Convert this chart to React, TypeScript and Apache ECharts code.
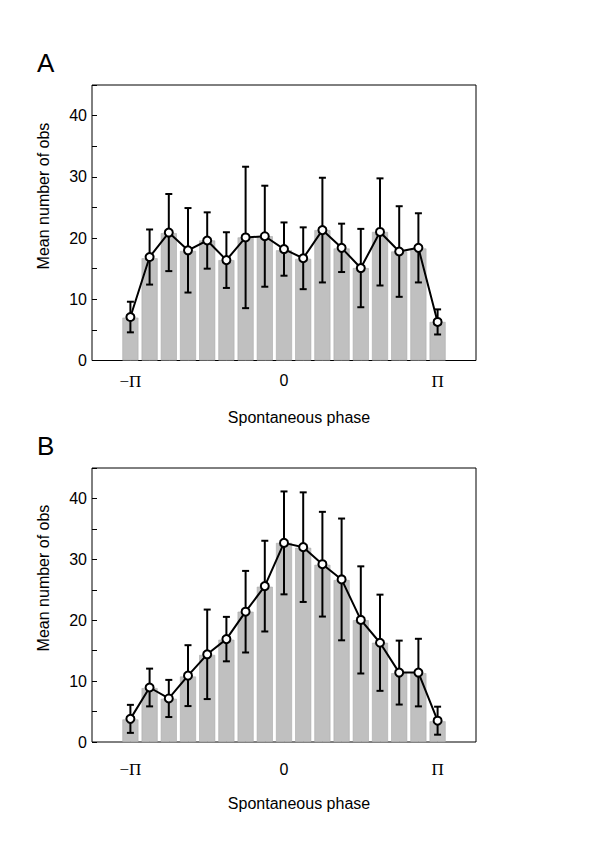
import React, { useEffect, useRef } from "react";
import * as echarts from "echarts";

const phase = [-8, -7, -6, -5, -4, -3, -2, -1, 0, 1, 2, 3, 4, 5, 6, 7, 8];
const phaseLabelValues = [-8, 0, 8];
const yTickLabels = [0, 10, 20, 30, 40];

const barA = [7.0, 16.7, 20.8, 17.9, 19.6, 16.4, 20.1, 20.3, 18.0, 16.6, 21.3, 18.3, 15.1, 21.0, 17.8, 18.3, 6.3];
const meanA = [7.1, 16.9, 20.9, 18.0, 19.6, 16.4, 20.1, 20.3, 18.2, 16.7, 21.3, 18.4, 15.1, 21.0, 17.8, 18.4, 6.3];
const errA = [2.5, 4.5, 6.3, 6.9, 4.6, 4.55, 11.55, 8.25, 4.35, 5.05, 8.55, 3.95, 6.4, 8.75, 7.4, 5.65, 2.05];

const barB = [3.7, 8.85, 7.1, 10.75, 14.3, 16.8, 21.4, 25.5, 32.7, 31.9, 29.1, 26.6, 20.0, 16.3, 11.3, 11.3, 3.4];
const meanB = [3.8, 8.95, 7.15, 10.9, 14.4, 16.9, 21.4, 25.6, 32.7, 32.0, 29.2, 26.7, 20.05, 16.3, 11.4, 11.4, 3.5];
const errB = [2.3, 3.1, 3.05, 5.0, 7.35, 3.65, 6.7, 7.45, 8.45, 9.0, 8.6, 10.0, 8.8, 7.9, 5.25, 5.55, 2.3];

const panelLetters = ["A", "B"];
const xName = "Spontaneous phase";
const yName = "Mean number of obs";

const SANS = "Liberation Sans, Arial, Helvetica, sans-serif";
const SERIF = "Liberation Serif, Times New Roman, serif";

function errorRender(params: any, api: any) {
  const x = api.value(0);
  const m = api.value(1);
  const e = api.value(2);
  const top = api.coord([x, m + e]);
  const bot = api.coord([x, m - e]);
  const hw = 3.5;
  const st = { stroke: "#000", lineWidth: 2 };
  return {
    type: "group",
    children: [
      { type: "line", shape: { x1: top[0], y1: top[1], x2: bot[0], y2: bot[1] }, style: st },
      { type: "line", shape: { x1: top[0] - hw, y1: top[1], x2: top[0] + hw, y2: top[1] }, style: st },
      { type: "line", shape: { x1: bot[0] - hw, y1: bot[1], x2: bot[0] + hw, y2: bot[1] }, style: st },
    ],
  };
}

export default function App() {
  const ref = useRef<HTMLDivElement>(null);
  useEffect(() => {
    if (!ref.current) return;
    const chart = echarts.init(ref.current, null, { renderer: "svg" });
    const grids = [
      { left: 92, right: 124, top: 85, height: 275.5, labelMargin: 12 },
      { left: 92, right: 124, top: 468, height: 274, labelMargin: 19 },
    ];
    const panels = [
      { bar: barA, mean: meanA, err: errA },
      { bar: barB, mean: meanB, err: errB },
    ];
    const xAxes: any[] = [];
    const yAxes: any[] = [];
    const series: any[] = [];
    grids.forEach((g, i) => {
      xAxes.push({
        type: "value",
        gridIndex: i,
        min: -10,
        max: 10,
        interval: 1,
        splitLine: { show: false },
        axisLine: { show: false, onZero: false },
        axisTick: { show: true, inside: true, length: 3, customValues: phase, lineStyle: { color: "#333", width: 1 } },
        axisLabel: {
          customValues: phaseLabelValues,
          margin: g.labelMargin,
          color: "#000",
          fontSize: 16,
          fontFamily: SANS,
          formatter: (v: number) => (v === -8 ? "{s|\u2212\u03A0}" : v === 8 ? "{s|\u03A0}" : "0"),
          rich: { s: { fontFamily: SERIF, fontSize: 17, color: "#000" } },
        },
      });
      yAxes.push({
        type: "value",
        gridIndex: i,
        min: 0,
        max: 45,
        interval: 5,
        splitLine: { show: false },
        axisLine: { show: false, onZero: false },
        axisTick: { show: true, inside: true, length: 5, lineStyle: { color: "#000", width: 1 } },
        axisLabel: {
          margin: 5,
          color: "#000",
          fontSize: 16,
          fontFamily: SANS,
          formatter: (v: number) => (yTickLabels.indexOf(v) >= 0 ? String(v) : ""),
        },
      });
      const p = panels[i];
      series.push({
        type: "bar",
        xAxisIndex: i,
        yAxisIndex: i,
        barWidth: 16,
        data: phase.map((x, k) => [x, p.bar[k]]),
        itemStyle: { color: "#c0c0c0", borderColor: "#a9a9a9", borderWidth: 0.6 },
        z: 1,
      });
      series.push({
        type: "custom",
        xAxisIndex: i,
        yAxisIndex: i,
        renderItem: errorRender,
        encode: { x: 0, y: 1 },
        data: phase.map((x, k) => [x, p.mean[k], p.err[k]]),
        z: 3,
      });
      series.push({
        type: "line",
        xAxisIndex: i,
        yAxisIndex: i,
        data: phase.map((x, k) => [x, p.mean[k]]),
        symbol: "circle",
        symbolSize: 8,
        showAllSymbol: true,
        lineStyle: { color: "#000", width: 2 },
        itemStyle: { color: "#fff", borderColor: "#000", borderWidth: 2 },
        z: 4,
      });
    });

    const graphics: any[] = [];
    const letterTops = [50, 433];
    const yNameCenters = [196, 578];
    const xNameCenters = [417, 803];
    [0, 1].forEach((i) => {
      graphics.push({
        type: "text",
        left: 37,
        top: letterTops[i],
        style: { text: panelLetters[i], font: `26px ${SANS}`, fill: "#000" },
      });
      graphics.push({
        type: "text",
        x: 43,
        y: yNameCenters[i],
        rotation: Math.PI / 2,
        style: {
          text: yName,
          font: `16px ${SANS}`,
          fill: "#000",
          align: "center",
          verticalAlign: "middle",
        },
      });
      graphics.push({
        type: "text",
        x: 299,
        y: xNameCenters[i],
        style: {
          text: xName,
          font: `16px ${SANS}`,
          fill: "#000",
          align: "center",
          verticalAlign: "middle",
        },
      });
    });

    chart.setOption({
      animation: false,
      backgroundColor: "#fff",
      grid: grids.map((g) => ({
        left: g.left,
        right: g.right,
        top: g.top,
        height: g.height,
        show: true,
        borderColor: "#000",
        borderWidth: 1,
        backgroundColor: "transparent",
      })),
      xAxis: xAxes,
      yAxis: yAxes,
      series,
      graphic: graphics,
    });
    return () => chart.dispose();
  }, []);
  return (
    <div
      ref={ref}
      style={{ position: "fixed", left: 0, top: 0, width: 600, height: 849, background: "#fff" }}
    />
  );
}
